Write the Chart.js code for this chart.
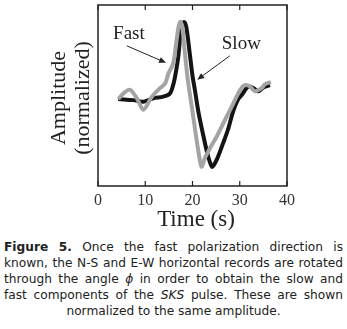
<!DOCTYPE html>
<html>
<head>
<meta charset="utf-8">
<script src="https://cdn.jsdelivr.net/npm/chart.js@4.4.1/dist/chart.umd.min.js"></script>
<style>
  html, body { margin: 0; padding: 0; background: #fff; }
  body { width: 347px; height: 329px; position: relative; overflow: hidden; }
  #wrap { position: absolute; left: 0; top: 0; width: 347px; height: 230px; }
  #caption {
    position: absolute; left: 4px; top: 239px; width: 339px; margin: 0;
    font-family: "DejaVu Sans", Verdana, sans-serif; font-size: 12.2px;
    line-height: 16px; color: #222; text-align: justify; text-align-last: center;
  }
</style>
</head>
<body>
<div id="wrap"><canvas id="chart" width="347" height="230"></canvas></div>
<p id="caption"><b>Figure 5.</b> Once the fast polarization direction is known, the N-S and E-W horizontal records are rotated through the angle <i>ϕ</i> in order to obtain the slow and fast components of the <i>SKS</i> pulse. These are shown normalized to the same amplitude.</p>
<script>
// Time (s) and normalized amplitude
const fastTime = [4.3, 5.5, 6.8, 8.3, 9.6, 11.4, 13.1, 14.2, 14.9, 15.9, 16.5, 17.0, 17.4, 17.8, 18.3, 18.9, 19.3, 19.9, 20.6, 21.3, 21.9, 22.6, 23.7, 25.1, 26.9, 28.3, 30.1, 31.1, 32.2, 33.2, 34.6, 35.3, 36.6];
const fastAmp  = [0.0, 0.08, 0.12, 0.0, -0.14, 0.03, 0.14, 0.2, 0.33, 0.46, 0.7, 0.92, 1.0, 0.95, 0.65, 0.3, 0.12, -0.12, -0.42, -0.7, -0.88, -0.77, -0.64, -0.49, -0.27, -0.1, 0.12, 0.18, 0.16, 0.1, 0.14, 0.19, 0.22];

const slowTime = [4.3, 6.0, 7.5, 9.6, 11.7, 13.8, 15.2, 15.9, 16.4, 17.0, 17.6, 18.2, 18.7, 19.4, 20.0, 20.5, 21.2, 22.2, 23.2, 24.1, 24.6, 25.4, 26.5, 27.5, 28.6, 29.6, 30.4, 31.8, 32.9, 33.9, 35.0, 36.4];
const slowAmp  = [0.0, -0.01, -0.015, -0.035, 0.01, 0.03, 0.07, 0.18, 0.32, 0.55, 0.92, 1.0, 0.93, 0.6, 0.3, 0.12, -0.15, -0.45, -0.72, -0.88, -0.85, -0.75, -0.57, -0.4, -0.16, -0.01, 0.05, 0.16, 0.14, 0.1, 0.15, 0.18];

const xTicks = [0, 10, 20, 30, 40];

// labels with arrows, in data coordinates
const notes = [
  { text: "Fast", x: 3.2, y: 0.78, from: [6.1, 0.69], to: [14.4, 0.47] },
  { text: "Slow", x: 26.2, y: 0.65, from: [27.9, 0.56], to: [21.0, 0.25] }
];

const toXY = (xs, ys) => xs.map((x, i) => ({ x: x, y: ys[i] }));

const figurePlugin = {
  id: "figure",
  afterDraw(chart) {
    const c = chart.ctx;
    const a = chart.chartArea;
    const xs = chart.scales.x, ys = chart.scales.y;
    c.save();
    // frame
    c.strokeStyle = "#222";
    c.lineWidth = 1.5;
    c.strokeRect(a.left, a.top, a.right - a.left, a.bottom - a.top);
    // inward ticks top and bottom
    c.lineWidth = 1.2;
    xTicks.forEach(v => {
      const px = xs.getPixelForValue(v);
      c.beginPath();
      c.moveTo(px, a.bottom); c.lineTo(px, a.bottom - 5);
      c.moveTo(px, a.top); c.lineTo(px, a.top + 5);
      c.stroke();
    });
    // notes and arrows
    c.fillStyle = "#222";
    c.font = "19px 'Liberation Serif', 'Times New Roman', serif";
    c.textBaseline = "alphabetic";
    notes.forEach(n => {
      c.fillText(n.text, xs.getPixelForValue(n.x), ys.getPixelForValue(n.y));
      const x0 = xs.getPixelForValue(n.from[0]), y0 = ys.getPixelForValue(n.from[1]);
      const x1 = xs.getPixelForValue(n.to[0]), y1 = ys.getPixelForValue(n.to[1]);
      const ang = Math.atan2(y1 - y0, x1 - x0);
      c.lineWidth = 1;
      c.beginPath();
      c.moveTo(x0, y0);
      c.lineTo(x1 - 5 * Math.cos(ang), y1 - 5 * Math.sin(ang));
      c.stroke();
      c.beginPath();
      c.moveTo(x1, y1);
      c.lineTo(x1 - 7 * Math.cos(ang) + 3 * Math.sin(ang), y1 - 7 * Math.sin(ang) - 3 * Math.cos(ang));
      c.lineTo(x1 - 7 * Math.cos(ang) - 3 * Math.sin(ang), y1 - 7 * Math.sin(ang) + 3 * Math.cos(ang));
      c.closePath();
      c.fill();
    });
    // axis titles
    c.font = "23px 'Liberation Serif', 'Times New Roman', serif";
    c.textAlign = "center";
    c.fillText("Time (s)", 196, 226);
    c.font = "22px 'Liberation Serif', 'Times New Roman', serif";
    c.translate(65, 98);
    c.rotate(-Math.PI / 2);
    c.fillText("Amplitude", 0, 0);
    c.fillText("(normalized)", 0, 24);
    c.restore();
  }
};

const ctx = document.getElementById("chart").getContext("2d");
const chart = new Chart(ctx, {
  type: "line",
  data: {
    datasets: [
      { label: "Fast", data: toXY(fastTime, fastAmp), borderColor: "#a4a4a4", borderWidth: 4, tension: 0.3, pointRadius: 0 },
      { label: "Slow", data: toXY(slowTime, slowAmp), borderColor: "#141414", borderWidth: 4, tension: 0.3, pointRadius: 0 }
    ]
  },
  options: {
    responsive: false,
    animation: false,
    layout: { padding: { left: 98, right: 60, top: 5, bottom: 0 } },
    plugins: { legend: { display: false }, tooltip: { enabled: false } },
    scales: {
      x: {
        type: "linear",
        min: 0,
        max: 40,
        afterBuildTicks: s => { s.ticks = xTicks.map(v => ({ value: v })); },
        afterFit: s => { s.height = 44; },
        grid: { display: false, drawTicks: false },
        border: { display: false },
        ticks: { padding: 5, color: "#333", font: { family: "'Liberation Serif', serif", size: 16 } }
      },
      y: {
        display: false,
        min: -1.13,
        max: 1.22
      }
    }
  },
  plugins: [figurePlugin]
});
</script>
</body>
</html>
